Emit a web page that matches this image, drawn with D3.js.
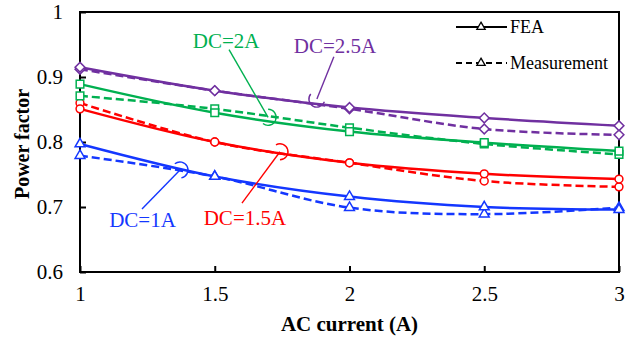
<!DOCTYPE html>
<html>
<head>
<meta charset="utf-8">
<script src="https://cdn.jsdelivr.net/npm/d3@7"></script>
<style>
  body { margin: 0; background: #fff; }
  svg { display: block; font-family: "Liberation Serif", "Times New Roman", serif; }
</style>
</head>
<body>
<svg id="chart" width="637" height="344"></svg>
<script>
// AC current (A) on the x axis
const acCurrent = [1, 1.5, 2, 2.5, 3];
const xTicks = [1, 1.5, 2, 2.5, 3];
const yTicks = [0.6, 0.7, 0.8, 0.9, 1];

// Power factor per DC bias: FEA and measurement
const fea1A   = [0.797, 0.747, 0.716, 0.700, 0.696];
const meas1A  = [0.779, 0.747, 0.699, 0.689, 0.699];
const fea15A  = [0.851, 0.800, 0.768, 0.751, 0.743];
const meas15A = [0.860, 0.800, 0.768, 0.740, 0.731];
const fea2A   = [0.889, 0.845, 0.816, 0.799, 0.786];
const meas2A  = [0.871, 0.851, 0.822, 0.797, 0.781];
const fea25A  = [0.915, 0.879, 0.853, 0.837, 0.825];
const meas25A = [0.912, 0.879, 0.851, 0.820, 0.811];

const seriesLabels = ["DC=1A", "DC=1.5A", "DC=2A", "DC=2.5A"];
const legendLabels = ["FEA", "Measurement"];

const series = [
  { label: seriesLabels[0], fea: fea1A,  meas: meas1A,  color: "#1437ff", marker: "triangle" },
  { label: seriesLabels[1], fea: fea15A, meas: meas15A, color: "#ff0000", marker: "circle" },
  { label: seriesLabels[2], fea: fea2A,  meas: meas2A,  color: "#00b050", marker: "square" },
  { label: seriesLabels[3], fea: fea25A, meas: meas25A, color: "#7030a0", marker: "diamond" }
];

// Callout labels: text anchor, leader start and leader end, in data units
const callouts = [
  { s: 0, tx: 1.232, ty: 0.669, x0: 1.230, y0: 0.697, x1: 1.371, y1: 0.757, a0: -130, a1: 80 },
  { s: 1, tx: 1.612, ty: 0.672, x0: 1.601, y0: 0.706, x1: 1.742, y1: 0.785, a0: -120, a1: 90 },
  { s: 2, tx: 1.542, ty: 0.945, x0: 1.553, y0: 0.942, x1: 1.698, y1: 0.838, a0: -90, a1: 130 },
  { s: 3, tx: 1.946, ty: 0.937, x0: 1.942, y0: 0.931, x1: 1.879, y1: 0.866, a0: 20, a1: 220 }
];

const svg = d3.select("#chart");
const margin = { left: 80, top: 12, right: 18, bottom: 72 };
const W = 637, H = 344;
const x = d3.scaleLinear().domain([1, 3]).range([margin.left, W - margin.right]);
const y = d3.scaleLinear().domain([0.6, 1]).range([H - margin.bottom, margin.top]);

// Open markers; the diamond is a square turned 45 degrees
const markerShape = {
  triangle: { type: d3.symbolTriangle, size: 42, rot: 0 },
  circle:   { type: d3.symbolCircle,   size: 48, rot: 0 },
  square:   { type: d3.symbolSquare,   size: 58, rot: 0 },
  diamond:  { type: d3.symbolSquare,   size: 48, rot: 45 }
};

const line = d3.line()
  .x((d, i) => x(acCurrent[i]))
  .y(d => y(d))
  .curve(d3.curveCatmullRom.alpha(0));

// Frame and axes
svg.append("rect")
  .attr("x", x(1)).attr("y", y(1))
  .attr("width", x(3) - x(1)).attr("height", y(0.6) - y(1))
  .attr("fill", "none").attr("stroke", "#000").attr("stroke-width", 2);

const xAxis = d3.axisBottom(x).tickValues(xTicks).tickSize(-6).tickPadding(14)
  .tickFormat(d3.format("~g"));
const gx = svg.append("g").attr("transform", `translate(0,${y(0.6)})`).call(xAxis);
gx.attr("font-family", null);
gx.select(".domain").remove();
gx.selectAll(".tick line").attr("stroke", "#000").attr("stroke-width", 2);
gx.selectAll(".tick text").attr("font-size", 21).attr("fill", "#000");

const yAxis = d3.axisLeft(y).tickValues(yTicks).tickSize(-6).tickPadding(17)
  .tickFormat(d3.format("~g"));
const gy = svg.append("g").attr("transform", `translate(${x(1)},0)`).call(yAxis);
gy.attr("font-family", null);
gy.select(".domain").remove();
gy.selectAll(".tick line").attr("stroke", "#000").attr("stroke-width", 2);
gy.selectAll(".tick text").attr("font-size", 21).attr("fill", "#000");

// Axis titles
svg.append("text")
  .attr("x", (x(1) + x(3)) / 2).attr("y", 331)
  .attr("text-anchor", "middle").attr("font-size", 21).attr("font-weight", "bold")
  .text("AC current (A)");
svg.append("text")
  .attr("transform", `translate(29,${(y(0.6) + y(1)) / 2 + 2}) rotate(-90)`)
  .attr("text-anchor", "middle").attr("font-size", 20).attr("font-weight", "bold")
  .text("Power factor");

// Curves
const plot = svg.append("g");
series.forEach(s => {
  plot.append("path").attr("d", line(s.meas))
    .attr("fill", "none").attr("stroke", s.color).attr("stroke-width", 2.5)
    .attr("stroke-dasharray", "8,4");
  plot.append("path").attr("d", line(s.fea))
    .attr("fill", "none").attr("stroke", s.color).attr("stroke-width", 2.5);
});
series.forEach(s => {
  const m = markerShape[s.marker];
  const sym = d3.symbol().type(m.type).size(m.size);
  [s.meas, s.fea].forEach(vals => {
    plot.selectAll(null).data(vals).enter().append("path")
      .attr("d", sym)
      .attr("transform", (d, i) => `translate(${x(acCurrent[i])},${y(d)}) rotate(${m.rot})`)
      .attr("fill", "#fff").attr("stroke", s.color).attr("stroke-width", 1.5);
  });
});

// Callouts
const notes = svg.append("g");
callouts.forEach(c => {
  const s = series[c.s];
  notes.append("text")
    .attr("x", x(c.tx)).attr("y", y(c.ty))
    .attr("text-anchor", "middle").attr("font-size", 21).attr("fill", s.color)
    .text(s.label);
  notes.append("line")
    .attr("x1", x(c.x0)).attr("y1", y(c.y0)).attr("x2", x(c.x1)).attr("y2", y(c.y1))
    .attr("stroke", s.color).attr("stroke-width", 1.4);
  const r = 8;
  const cx = x(c.x1), cy = y(c.y1);
  const rad = a => a * Math.PI / 180;
  const p0 = [cx + r * Math.cos(rad(c.a0)), cy + r * Math.sin(rad(c.a0))];
  const p1 = [cx + r * Math.cos(rad(c.a1)), cy + r * Math.sin(rad(c.a1))];
  const large = (c.a1 - c.a0) > 180 ? 1 : 0;
  notes.append("path")
    .attr("d", `M${p0[0]},${p0[1]} A${r},${r} 0 ${large} 1 ${p1[0]},${p1[1]}`)
    .attr("fill", "none").attr("stroke", s.color).attr("stroke-width", 1.4);
});

// Legend
const legend = svg.append("g");
legendLabels.forEach((lab, i) => {
  const ly = 27 + i * 36;
  legend.append("line")
    .attr("x1", 456).attr("x2", 507).attr("y1", ly).attr("y2", ly)
    .attr("stroke", "#000").attr("stroke-width", 2.2)
    .attr("stroke-dasharray", i === 1 ? "6,4" : null);
  legend.append("path")
    .attr("d", d3.symbol().type(d3.symbolTriangle).size(30))
    .attr("transform", `translate(481,${ly})`)
    .attr("fill", "#fff").attr("stroke", "#000").attr("stroke-width", 1.3);
  legend.append("text")
    .attr("x", 510).attr("y", ly + 6)
    .attr("font-size", 18).attr("fill", "#000")
    .text(lab);
});
</script>
</body>
</html>
